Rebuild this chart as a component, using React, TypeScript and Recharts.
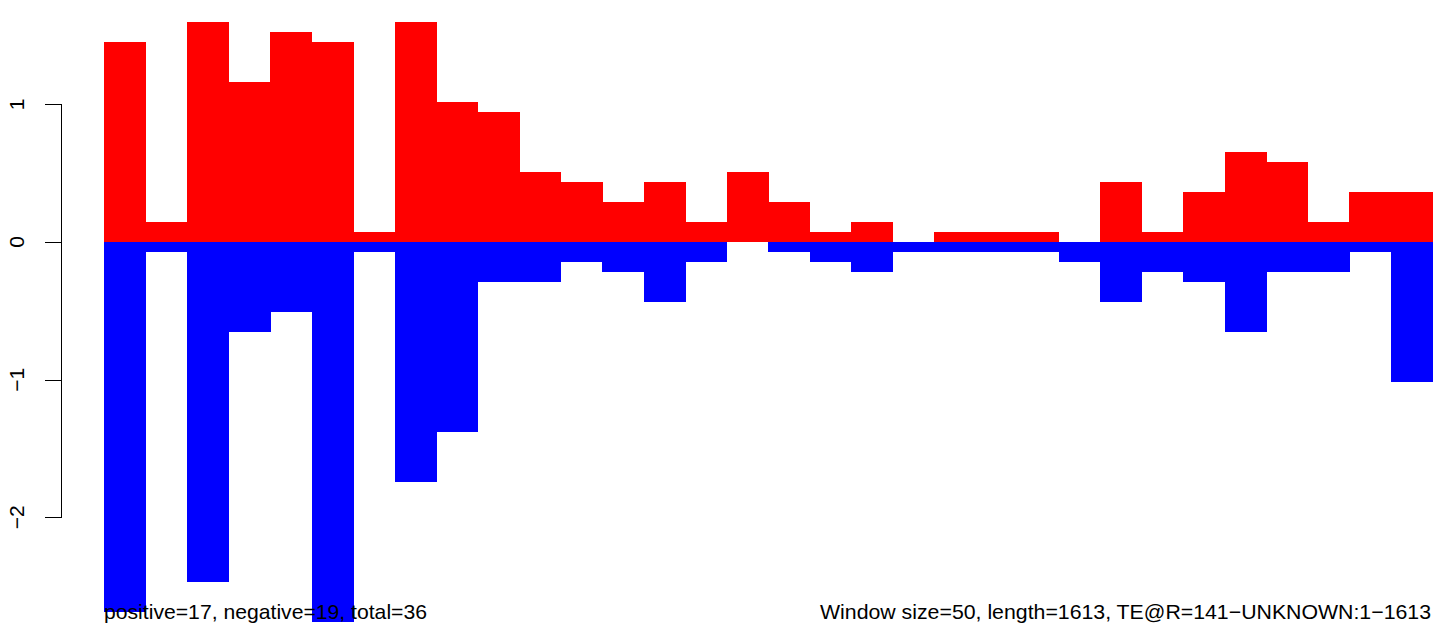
import { BarChart, Bar, XAxis, YAxis, ReferenceLine } from 'recharts';

// window start positions along the TE copy (window size 50)
const windows = [
  '1', '51', '101', '151', '201', '251', '301', '351', '401', '451', '501', '551',
  '601', '651', '701', '751', '801', '851', '901', '951', '1001', '1051', '1101', '1151',
  '1201', '1251', '1301', '1351', '1401', '1451', '1501', '1551',
];

const positive = [
  1.452, 0.145, 1.597, 1.162, 1.525, 1.452, 0.073, 1.597, 1.016, 0.944, 0.508, 0.436,
  0.29, 0.436, 0.145, 0.508, 0.29, 0.073, 0.145, 0, 0.073, 0.073, 0.073, 0,
  0.436, 0.073, 0.363, 0.653, 0.581, 0.145, 0.363, 0.363,
];

const negative = [
  -2.686, -0.073, -2.468, -0.653, -0.508, -2.759, -0.073, -1.742, -1.379, -0.29, -0.29, -0.145,
  -0.218, -0.436, -0.145, 0, -0.073, -0.145, -0.218, -0.073, -0.073, -0.073, -0.073, -0.145,
  -0.436, -0.218, -0.29, -0.653, -0.218, -0.218, -0.073, -1.016,
];

const yTicks = [-2, -1, 0, 1];

const footLeft = 'positive=17, negative=19, total=36';
const footRight = 'Window size=50, length=1613, TE@R=141\u2212UNKNOWN:1\u22121613';

const data = windows.map((w, i) => ({ win: w, pos: positive[i], neg: negative[i] }));

const FONT = '"Liberation Sans", Arial, Helvetica, sans-serif';

const fmt = (v: number) => (v < 0 ? '\u2212' + Math.abs(v) : String(v));

// R-style y tick: short mark left of the axis, label rotated parallel to it
const YTick = (props: any) => {
  const { y, payload } = props;
  const yy = Math.round(y) + 0.5;
  return (
    <g>
      <line x1={45} x2={61} y1={yy} y2={yy} stroke="#000" strokeWidth={1} />
      <text
        transform={`translate(24,${y}) rotate(-90)`}
        textAnchor="middle"
        fontSize={21}
        fontFamily={FONT}
        fill="#000"
      >
        {fmt(payload.value)}
      </text>
    </g>
  );
};

export default function App() {
  return (
    <div style={{ position: 'absolute', left: 0, top: 0, width: 1433, height: 627, background: '#fff' }}>
      <BarChart
        width={1433}
        height={627}
        data={data}
        margin={{ top: 22, right: 1, bottom: 0, left: 0 }}
        barCategoryGap={0}
        barGap={0}
        stackOffset="sign"
      >
        <XAxis dataKey="win" hide />
        <YAxis
          width={104}
          domain={[-2.796, 1.5977]}
          allowDataOverflow
          ticks={yTicks}
          interval={0}
          axisLine={false}
          tickLine={false}
          tick={YTick}
        />
        <Bar dataKey="pos" stackId="s" fill="#FF0000" isAnimationActive={false} shapeRendering="crispEdges" />
        <Bar dataKey="neg" stackId="s" fill="#0000FF" isAnimationActive={false} shapeRendering="crispEdges" />
        <ReferenceLine
          segment={[
            { x: windows[0], y: 1 },
            { x: windows[0], y: -2 },
          ]}
          shape={(p: any) => (
            <line
              x1={61.5}
              x2={61.5}
              y1={Math.round(p.y1)}
              y2={Math.round(p.y2) + 1}
              stroke="#000"
              strokeWidth={1}
            />
          )}
        />
      </BarChart>
      <svg
        width={1433}
        height={627}
        style={{ position: 'absolute', left: 0, top: 0, pointerEvents: 'none' }}
      >
        <text x={104} y={619} fontSize={21} fontFamily={FONT} fill="#000" textLength={323} lengthAdjust="spacingAndGlyphs">
          {footLeft}
        </text>
        <text x={820} y={619} fontSize={21} fontFamily={FONT} fill="#000" textLength={611} lengthAdjust="spacingAndGlyphs">
          {footRight}
        </text>
      </svg>
    </div>
  );
}
